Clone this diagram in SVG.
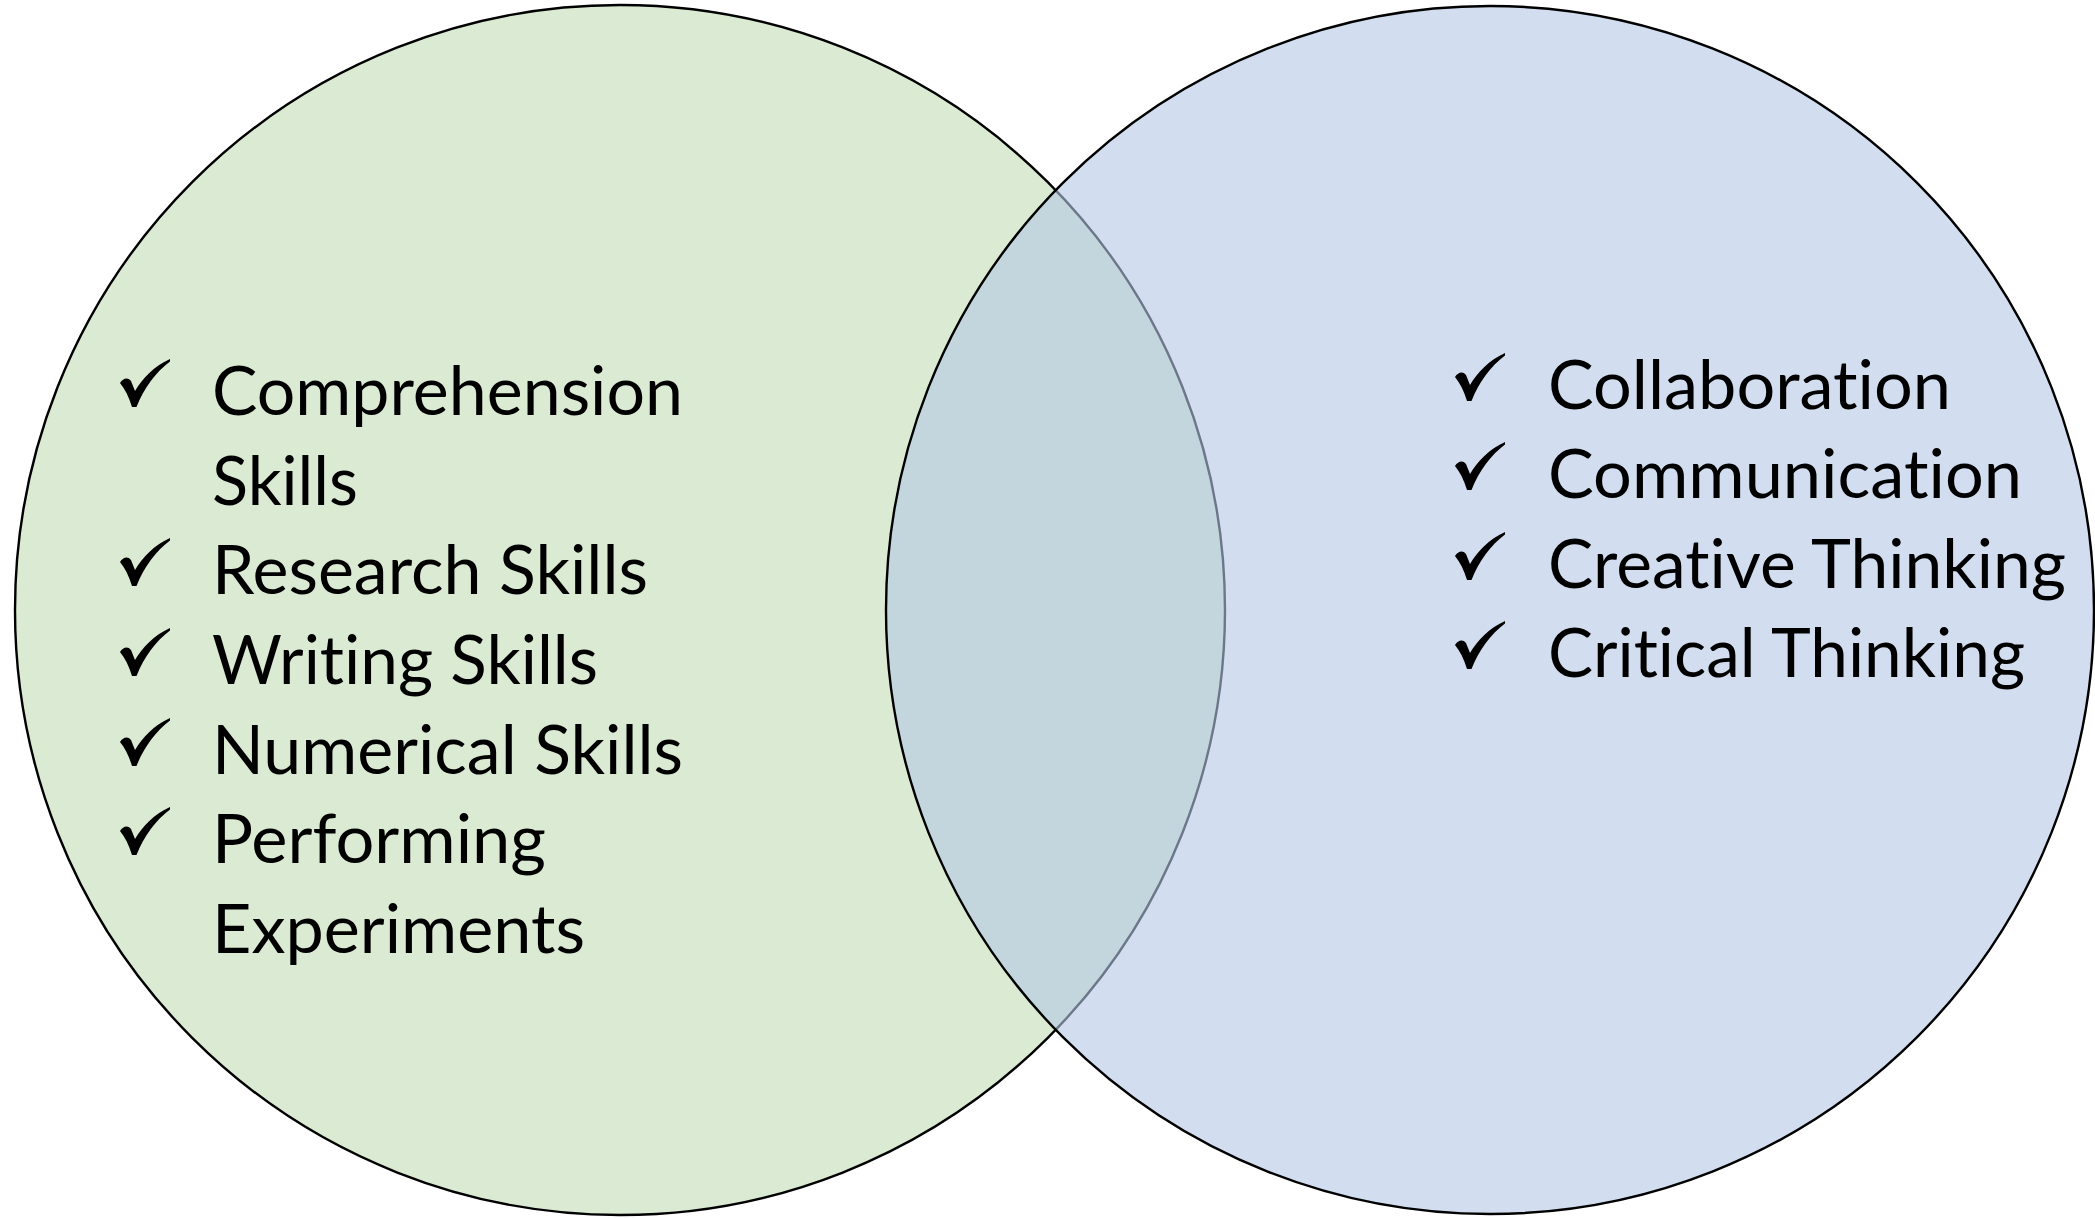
<svg xmlns="http://www.w3.org/2000/svg" xmlns:xlink="http://www.w3.org/1999/xlink" width="2095" height="1218" viewBox="0 0 2095 1218">
  <style>
    .set-left { fill: #DBEAD3; stroke: #000000; stroke-width: 2.4; }
    .set-right { fill: rgb(180,200,228); fill-opacity: 0.6; stroke: #000000; stroke-width: 2.4; }
    .item { font-family: Lato, "Open Sans", "Liberation Sans", sans-serif; font-size: 67px; fill: #000000; font-variant-ligatures: none; font-feature-settings: "liga" 0, "clig" 0; }
    .tick { fill: #000000; }
  </style>
  <defs>
    <path id="check" class="tick" d="M0 24 C3 19 8 18 11 22 L15 32 C22 20 34 7 50 0 L50 2.5 C36 13 24 29 16.5 48 L12 48 C9 38 5 30 0 24 Z"/>
  </defs>
  <rect width="2095" height="1218" fill="#FFFFFF"/>
  <g id="left-set">
    <circle class="set-left" cx="620" cy="610" r="605"/>
    <use xlink:href="#check" x="120" y="359"/>
    <text class="item" x="212" y="415" textLength="471" lengthAdjust="spacingAndGlyphs">Comprehension</text>
    <text class="item" x="212" y="505" textLength="146" lengthAdjust="spacingAndGlyphs">Skills</text>
    <use xlink:href="#check" x="120" y="538"/>
    <text class="item" x="212" y="594" textLength="436" lengthAdjust="spacingAndGlyphs">Research Skills</text>
    <use xlink:href="#check" x="120" y="628"/>
    <text class="item" x="212" y="684" textLength="386" lengthAdjust="spacingAndGlyphs">Writing Skills</text>
    <use xlink:href="#check" x="120" y="718"/>
    <text class="item" x="212" y="774" textLength="471" lengthAdjust="spacingAndGlyphs">Numerical Skills</text>
    <use xlink:href="#check" x="120" y="807"/>
    <text class="item" x="212" y="863" textLength="334" lengthAdjust="spacingAndGlyphs">Performing</text>
    <text class="item" x="212" y="953" textLength="373" lengthAdjust="spacingAndGlyphs">Experiments</text>
  </g>
  <g id="right-set">
    <circle class="set-right" cx="1490" cy="610" r="604"/>
    <use xlink:href="#check" x="1455" y="353"/>
    <text class="item" x="1548" y="409" textLength="403" lengthAdjust="spacingAndGlyphs">Collaboration</text>
    <use xlink:href="#check" x="1455" y="442"/>
    <text class="item" x="1548" y="498" textLength="474" lengthAdjust="spacingAndGlyphs">Communication</text>
    <use xlink:href="#check" x="1455" y="532"/>
    <text class="item" x="1548" y="588" textLength="518" lengthAdjust="spacingAndGlyphs">Creative Thinking</text>
    <use xlink:href="#check" x="1455" y="621"/>
    <text class="item" x="1548" y="677" textLength="477" lengthAdjust="spacingAndGlyphs">Critical Thinking</text>
  </g>
</svg>
